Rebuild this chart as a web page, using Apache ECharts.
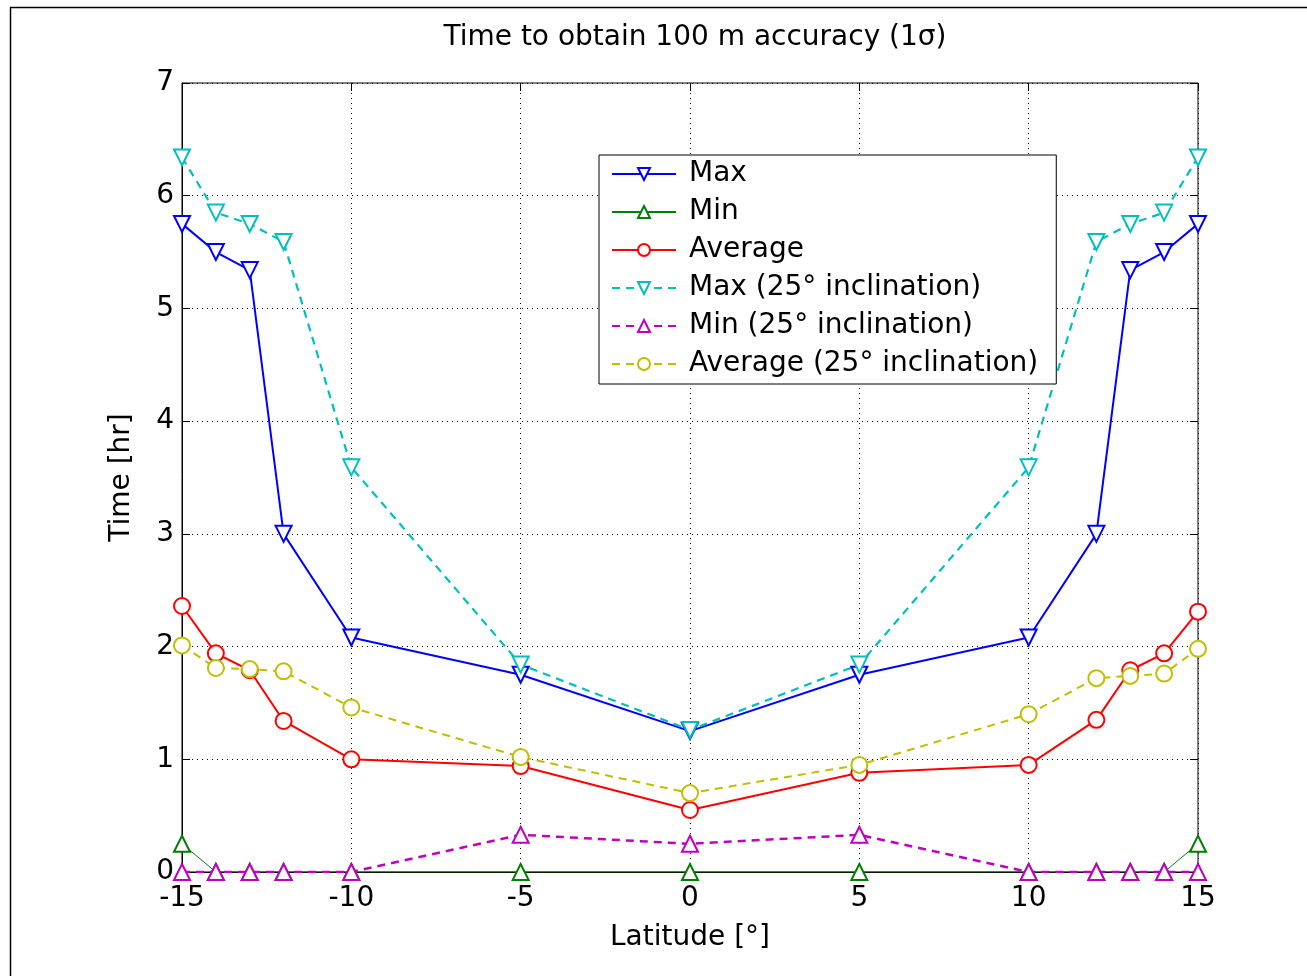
<!DOCTYPE html>
<html><head><meta charset="utf-8">
<script src="https://cdn.jsdelivr.net/npm/echarts@6/dist/echarts.min.js"></script>
<style>html,body{margin:0;padding:0;background:#fff}#c{width:1307px;height:976px}</style>
</head><body><div id="c"></div>
<script>
const latitudes = [-15, -14, -13, -12, -10, -5, 0, 5, 10, 12, 13, 14, 15];
const maxVals    = [5.75, 5.50, 5.34, 3.00, 2.08, 1.75, 1.25, 1.75, 2.08, 3.00, 5.34, 5.50, 5.75];
const minVals    = [0.25, 0, 0, 0, 0, 0, 0, 0, 0, 0, 0, 0, 0.25];
const avgVals    = [2.36, 1.94, 1.79, 1.34, 1.00, 0.94, 0.55, 0.88, 0.95, 1.35, 1.79, 1.94, 2.31];
const max25Vals  = [6.34, 5.85, 5.75, 5.59, 3.59, 1.84, 1.26, 1.84, 3.59, 5.59, 5.75, 5.85, 6.34];
const min25Vals  = [0, 0, 0, 0, 0, 0.33, 0.25, 0.33, 0, 0, 0, 0, 0];
const avg25Vals  = [2.01, 1.81, 1.80, 1.78, 1.46, 1.02, 0.70, 0.95, 1.40, 1.72, 1.74, 1.76, 1.98];
const seriesNames = ['Max', 'Min', 'Average', 'Max (25° inclination)', 'Min (25° inclination)', 'Average (25° inclination)'];
const titleText = 'Time to obtain 100 m accuracy (1σ)';
const xName = 'Latitude [°]';
const yName = 'Time [hr]';

const FONT = 'DejaVu Sans, sans-serif';
const FS = 28;
const pairs = v => latitudes.map((x, i) => [x, v[i]]);

function mk(name, vals, color, symbol, rotate, width, dashed) {
  return {
    name, type: 'line', data: pairs(vals),
    symbol, symbolSize: 16, symbolRotate: rotate,
    showAllSymbol: true,
    lineStyle: { color, width, type: dashed ? [8, 6] : 'solid' },
    itemStyle: { color, borderColor: color, borderWidth: 1.6 },
    emphasis: { disabled: true },
    animation: false
  };
}

const chart = echarts.init(document.getElementById('c'));
chart.setOption({
  backgroundColor: '#fff',
  animation: false,
  title: {
    text: titleText, left: 690, textAlign: 'center', top: 19,
    textStyle: { fontFamily: FONT, fontSize: FS, fontWeight: 'normal', color: '#000' }
  },
  graphic: [{
    type: 'rect', shape: { x: 10.5, y: 7.5, width: 1310, height: 980 },
    style: { fill: null, stroke: '#000', lineWidth: 1.5 }, silent: true, z: -1
  }],
  grid: { left: 182, right: 109, top: 83, bottom: 104, show: true, borderColor: '#000', borderWidth: 1 },
  legend: {
    orient: 'vertical', left: 599, top: 155,
    backgroundColor: '#fff', borderColor: '#000', borderWidth: 1,
    padding: [3, 18, 4, 12],
    itemWidth: 64, itemHeight: 15, itemGap: 6,
    textStyle: { fontFamily: FONT, fontSize: FS, color: '#000', lineHeight: 32, padding: [0, 0, 0, 8] },
    data: seriesNames
  },
  xAxis: [{
    type: 'value', min: -15, max: 15, interval: 5,
    name: xName, nameLocation: 'middle', nameGap: 52,
    nameTextStyle: { fontFamily: FONT, fontSize: FS, color: '#000' },
    axisLine: { onZero: false, lineStyle: { color: '#000' } },
    axisTick: { inside: true, length: 8, lineStyle: { color: '#000' } },
    axisLabel: { fontFamily: FONT, fontSize: FS, color: '#000', margin: 13 },
    splitLine: { show: true, lineStyle: { color: '#000', type: [1, 4], width: 1 } }
  }, {
    type: 'value', min: -15, max: 15, interval: 5, position: 'top',
    axisLine: { show: false, onZero: false }, axisTick: { inside: true, length: 8, lineStyle: { color: '#000' } },
    axisLabel: { show: false }, splitLine: { show: false }
  }],
  yAxis: [{
    type: 'value', min: 0, max: 7, interval: 1,
    name: yName, nameLocation: 'middle', nameGap: 46, nameRotate: 90,
    nameTextStyle: { fontFamily: FONT, fontSize: FS, color: '#000' },
    axisLine: { show: true, onZero: false, lineStyle: { color: '#000' } },
    axisTick: { show: true, inside: true, length: 8, lineStyle: { color: '#000' } },
    axisLabel: { fontFamily: FONT, fontSize: FS, color: '#000', margin: 8 },
    splitLine: { show: true, lineStyle: { color: '#000', type: [1, 4], width: 1 } }
  }, {
    type: 'value', min: 0, max: 7, interval: 1, position: 'right',
    axisLine: { show: false, onZero: false }, axisTick: { show: true, inside: true, length: 8, lineStyle: { color: '#000' } },
    axisLabel: { show: false }, splitLine: { show: false }
  }],
  series: [
    mk(seriesNames[0], maxVals, '#0000ff', 'emptyTriangle', 180, 2, false),
    mk(seriesNames[1], minVals, '#008000', 'emptyTriangle', 0, 1, false),
    mk(seriesNames[2], avgVals, '#ff0000', 'emptyCircle', 0, 2, false),
    mk(seriesNames[3], max25Vals, '#00bfbf', 'emptyTriangle', 180, 2.2, true),
    mk(seriesNames[4], min25Vals, '#bf00bf', 'emptyTriangle', 0, 2.5, true),
    mk(seriesNames[5], avg25Vals, '#bfbf00', 'emptyCircle', 0, 2, true)
  ]
});
</script></body></html>
